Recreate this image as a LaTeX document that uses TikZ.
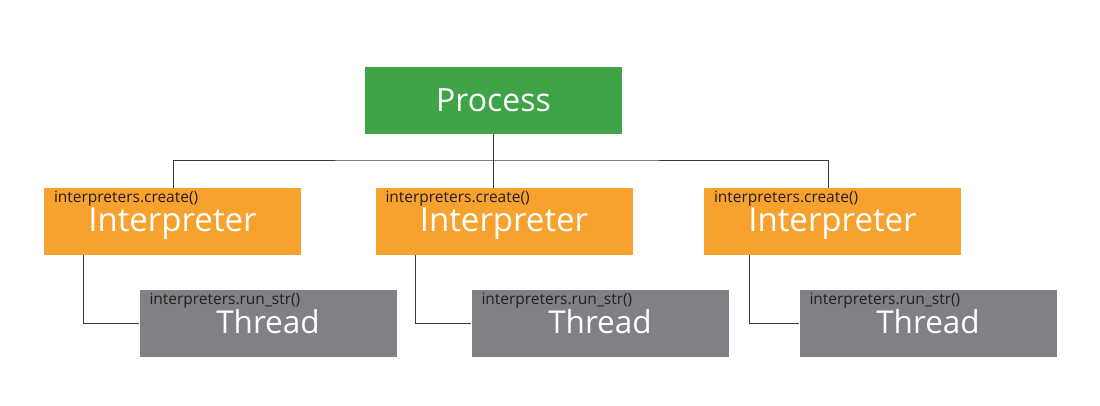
\documentclass[tikz,border=0pt]{standalone}
\usepackage{fontspec}
\setmainfont{Open Sans}
\usepackage{tikz}
\usetikzlibrary{positioning, calc}
\definecolor{ProcGreen}{HTML}{3FA447}
\definecolor{InterpOrange}{HTML}{F7A12E}
\definecolor{ThreadGray}{HTML}{808184}
\definecolor{LineGray}{HTML}{3A3A3A}
\definecolor{LabelBlack}{HTML}{231F20}
\tikzset{
    % Node styles
    procbox/.style={
        rectangle,
        fill=ProcGreen,
        draw=none,
        inner sep=0pt,
        minimum width=257pt,
        minimum height=67pt,
        text height=23pt,
        text depth=0pt,
        text=white,
        font=\fontsize{32}{38}\selectfont
    },
    interpbox/.style={
        rectangle,
        fill=InterpOrange,
        draw=none,
        inner sep=0pt,
        minimum width=257pt,
        minimum height=67pt,
        text height=21pt,
        text depth=0pt,
        text=white,
        font=\fontsize{33}{38}\selectfont,
        label={[calllabel]north west:interpreters.create()}
    },
    threadbox/.style={
        rectangle,
        fill=ThreadGray,
        draw=none,
        inner sep=0pt,
        minimum width=257pt,
        minimum height=67pt,
        text height=19pt,
        text depth=0pt,
        text=white,
        font=\fontsize{31.5}{36}\selectfont,
        label={[calllabel]north west:interpreters.run\_str()}
    },
    calllabel/.style={
        anchor=base west,
        inner sep=0pt,
        xshift=10pt,
        yshift=-15pt,
        text=LabelBlack,
        font=\fontsize{15.5}{18}\selectfont
    },
    % Connector style
    link/.style={
        draw=LineGray,
        line width=0.9pt
    }
}
\begin{document}
\begin{tikzpicture}[x=1pt, y=-1pt]
    \useasboundingbox (0,0) rectangle (1100,406);

    \node[procbox] (proc) at (493.5,100.5) {Process};

    \node[interpbox] (interp1) at (172.5,221.5) {Interpreter};
    \node[interpbox] (interp2) at (504,221.5) {Interpreter};
    \node[interpbox] (interp3) at (832.5,221.5) {Interpreter};

    \node[threadbox] (thread1) at (268,323.5) {Thread};
    \node[threadbox] (thread2) at (600,323.5) {Thread};
    \node[threadbox] (thread3) at (928,323.5) {Thread};

    \coordinate (bus) at (493.5,160);

    \draw[link] (proc.south) -- (interp2.north -| proc.south);
    \draw[link] ([xshift=0.5pt]interp1.north) |- (bus) -| ([xshift=-4.5pt]interp3.north);

    \draw[link] ([xshift=-89.5pt]interp1.south) |- (thread1.west);
    \draw[link] ([xshift=-89pt]interp2.south) |- (thread2.west);
    \draw[link] ([xshift=-83.5pt]interp3.south) |- (thread3.west);
\end{tikzpicture}
\end{document}
